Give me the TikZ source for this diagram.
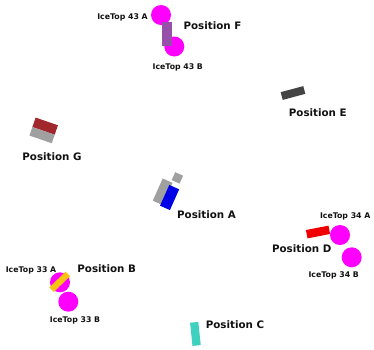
\documentclass[tikz,border=0pt]{standalone}
\usepackage{fontspec}
\setmainfont{DejaVu Sans}
\usepackage{xcolor}

\definecolor{tankpink}{RGB}{255,0,255}
\definecolor{posgrey}{RGB}{160,160,160}
\definecolor{posdark}{RGB}{68,68,68}
\definecolor{posred}{RGB}{240,0,0}
\definecolor{posmaroon}{RGB}{160,40,45}
\definecolor{posblue}{RGB}{0,0,230}
\definecolor{posteal}{RGB}{64,208,192}
\definecolor{posgold}{RGB}{250,195,20}
\definecolor{pospurple}{RGB}{150,80,170}
\definecolor{ink}{RGB}{17,17,17}

\begin{document}
\begin{tikzpicture}[x=1pt,y=-1pt,
    tank/.style={circle,fill=tankpink,inner sep=0pt,minimum size=20pt},
    pad/.style={rectangle,inner sep=0pt},
    poslbl/.style={anchor=base,text=ink,font=\bfseries\fontsize{10.3}{12}\selectfont,inner sep=0pt},
    tanklbl/.style={anchor=base,text=ink,font=\bfseries\fontsize{7.8}{9}\selectfont,inner sep=0pt}]
  \useasboundingbox (0,0) rectangle (374,349);

  % Position F
  \node[tank] (it43a) at (161,15) {};
  \node[tank] (it43b) at (174.3,46.5) {};
  \node[pad,fill=pospurple,minimum width=10pt,minimum height=24pt] (padF) at (166.7,34) {};
  \node[tanklbl] (l43a) at (122.5,19.9) {IceTop 43 A};
  \node[tanklbl] (l43b) at (177.8,69.5) {IceTop 43 B};
  \node[poslbl] (lF) at (212.5,29.8) {Position F};

  % Position E
  \node[pad,fill=posdark,minimum width=23.4pt,minimum height=8pt,rotate=15] (padE) at (293,93) {};
  \node[poslbl] (lE) at (317.8,116.5) {Position E};

  % Position G
  \begin{scope}[shift={(43.7,130.4)},rotate=-19]
    \fill[posmaroon] (-11.8,-9.5) rectangle (11.8,0.5);
    \fill[posgrey] (-11.8,0.5) rectangle (11.8,9.5);
  \end{scope}
  \node[poslbl] (lG) at (52,160.5) {Position G};

  % Position A
  \begin{scope}[shift={(169.6,197.5)},rotate=-24,scale=1.08]
    \fill[posgrey] (-13,-13.5) rectangle (-3,9);
    \fill[posgrey] (-4.8,-23.5) rectangle (3.2,-15.5);
    \fill[posblue] (-5,-10.5) rectangle (5,10.5);
  \end{scope}
  \node[poslbl] (lA) at (206.5,218.8) {Position A};

  % Position D
  \node[pad,fill=posred,minimum width=23pt,minimum height=8.5pt,rotate=11] (padD) at (318,232) {};
  \node[tank] (it34a) at (340,235) {};
  \node[tank] (it34b) at (351.7,257.3) {};
  \node[tanklbl] (l34a) at (345.2,218.6) {IceTop 34 A};
  \node[tanklbl] (l34b) at (333.7,277.9) {IceTop 34 B};
  \node[poslbl] (lD) at (301.7,252.8) {Position D};

  % Position B
  \node[tank] (it33a) at (60,282.3) {};
  \node[tank] (it33b) at (68.3,301.7) {};
  \node[pad,fill=posgold,minimum width=22.7pt,minimum height=6.4pt,rotate=44] (padB) at (59.7,281.8) {};
  \node[tanklbl] (l33a) at (31,272.9) {IceTop 33 A};
  \node[tanklbl] (l33b) at (75,322.9) {IceTop 33 B};
  \node[poslbl] (lB) at (106.7,272) {Position B};

  % Position C
  \node[pad,fill=posteal,minimum width=8.3pt,minimum height=23.3pt,rotate=6] (padC) at (195.4,333.9) {};
  \node[poslbl] (lC) at (235,328.8) {Position C};
\end{tikzpicture}
\end{document}
